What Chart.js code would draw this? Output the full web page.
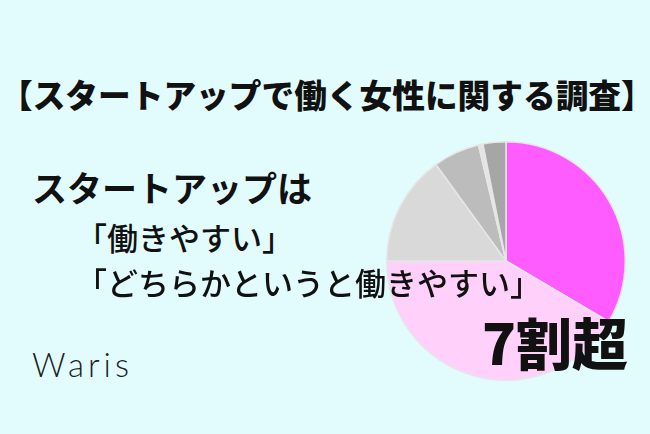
<!DOCTYPE html>
<html lang="ja">
<head>
<meta charset="utf-8">
<script src="https://cdn.jsdelivr.net/npm/chart.js@4"></script>
<style>
  html, body { margin: 0; padding: 0; }
  body {
    width: 650px; height: 434px; position: relative; overflow: hidden;
    background: #e2fcfd;
    font-family: "Noto Sans CJK JP", "Noto Sans", sans-serif;
    color: #111;
  }
  #pieBox { position: absolute; left: 386px; top: 141px; width: 240px; height: 240px; }
  .txt { position: absolute; white-space: nowrap; line-height: 1; }
  #title { left: 0; width: 650px; top: 78px; text-align: center; font-size: 32.7px; font-weight: 900; }
  #lead { left: 32px; top: 169px; font-size: 35px; font-weight: 700; }
  #line1 { left: 76px; top: 221px; font-size: 31px; font-weight: 500; }
  #line2 { left: 76px; top: 266px; font-size: 31px; font-weight: 500; }
  #brand { left: 32px; top: 348px; font-family: Lato, "Open Sans", sans-serif; font-size: 33px; font-weight: 300; letter-spacing: 4px; color: #1e1e1e; }
  #big { left: 482px; top: 313px; font-size: 56px; font-weight: 900; }
</style>
</head>
<body>
<div id="pieBox"><canvas id="surveyPie"></canvas></div>
<div class="txt" id="title">【スタートアップで働く女性に関する調査】</div>
<div class="txt" id="lead">スタートアップは</div>
<div class="txt" id="line1">「働きやすい」</div>
<div class="txt" id="line2">「どちらかというと働きやすい」</div>
<div class="txt" id="brand">Waris</div>
<div class="txt" id="big">7割超</div>
<script>
// answers, clockwise from 12 o'clock (%)
const answers = ['働きやすい', 'どちらかというと働きやすい', 'どちらともいえない', 'どちらかというと働きにくい', 'その他', '働きにくい'];
const shares = [33.5, 41.5, 15.0, 6.3, 0.6, 3.1];
const sliceColors = ['#ff5cff', '#ffd0fa', '#d9d9d9', '#bcbcbc', '#e4e4e4', '#a6a6a6'];

window.addEventListener('DOMContentLoaded', () => {
  const ctx = document.getElementById('surveyPie');
  if (!ctx || typeof window.Chart === 'undefined') return;

  new Chart(ctx, {
    type: 'pie',
    data: {
      labels: answers,
      datasets: [
        {
          data: shares,
          backgroundColor: sliceColors,
          borderColor: '#e6e6e6',
          borderWidth: 1.5
        }
      ]
    },
    options: {
      responsive: true,
      maintainAspectRatio: false,
      animation: false,
      layout: { padding: 0 },
      plugins: {
        legend: { display: false },
        tooltip: { enabled: false }
      }
    }
  });
});
</script>
</body>
</html>
